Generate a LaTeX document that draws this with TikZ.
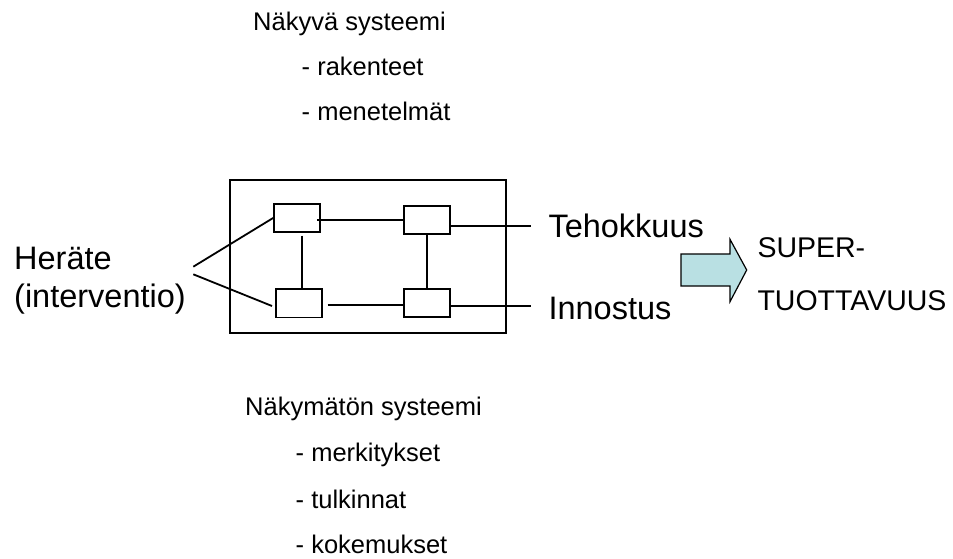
\documentclass[tikz,border=0pt]{standalone}
\usepackage{fontspec}
\setmainfont{Liberation Sans}
\begin{document}
\begin{tikzpicture}[x=1pt,y=-1pt,
  lbl/.style={inner sep=0pt,anchor=base west},
  big/.style={lbl,font=\fontsize{32.5}{38}\selectfont},
  small/.style={lbl,font=\fontsize{25.5}{30}\selectfont},
  mid/.style={lbl,font=\fontsize{28.5}{32}\selectfont},
  ln/.style={line width=1.8pt},
  sbox/.style={draw,line width=1.8pt,inner sep=0pt,minimum width=46pt,minimum height=28.5pt}]
\useasboundingbox (0,0) rectangle (953,559);
% top texts
\node[small] (vis) at (253,31) {Näkyvä systeemi};
\node[small] (vis1) at (301.5,75.5) {- rakenteet};
\node[small] (vis2) at (301.5,121) {- menetelmät};
% bottom texts
\node[small] (inv) at (245,415) {Näkymätön systeemi};
\node[small] (inv1) at (295.5,461.5) {- merkitykset};
\node[small] (inv2) at (295.5,508) {- tulkinnat};
\node[small] (inv3) at (295.5,553) {- kokemukset};
% left
\node[big] (her) at (14,269.5) {Heräte};
\node[big] (int) at (14,307.5) {(interventio)};
% outer box
\node[draw,line width=1.8pt,inner sep=0pt,minimum width=276pt,minimum height=153pt] (outer) at (368,256.5) {};
% inner boxes
\node[sbox] (tl) at (297,218) {};
\node[sbox] (tr) at (427,220) {};
\node[sbox] (bl) at (299,303.3) {};
\node[sbox] (br) at (427,303) {};
% connectors
\draw[ln] (317,220.3) -- (tr.west |- 0,220.3);
\draw[ln] (327.7,304.7) -- (br.west |- 0,304.7);
\draw[ln] (302.3,235.7) -- (bl.north -| 302.3,0);
\draw[ln] (tr.south) -- (br.north);
\coordinate (hL1) at (193.3,266.7);
\coordinate (hL2) at (193.3,274.3);
\draw[ln] (hL1) -- (tl.west);
\draw[ln] (hL2) -- (272,306);
\coordinate (oT) at (530.7,226);
\coordinate (oB) at (530.7,306);
\draw[ln] (tr.east |- 0,226) -- (oT);
\draw[ln] (br.east |- 0,306) -- (oB);
% right texts
\node[big] (teh) at (548.3,237.3) {Tehokkuus};
\node[big] (inn) at (548.3,319.5) {Innostus};
% arrow
\draw[line width=1.2pt,fill={rgb,255:red,185;green,224;blue,227},line join=miter]
  (681,254) -- (730,254) -- (730,239.3) -- (746.7,270) -- (730,301.7) -- (730,286) -- (681,286) -- cycle;
\node[mid] (sup) at (757.3,257.3) {SUPER-};
\node[mid] (tuo) at (757.3,310) {TUOTTAVUUS};
\end{tikzpicture}
\end{document}
